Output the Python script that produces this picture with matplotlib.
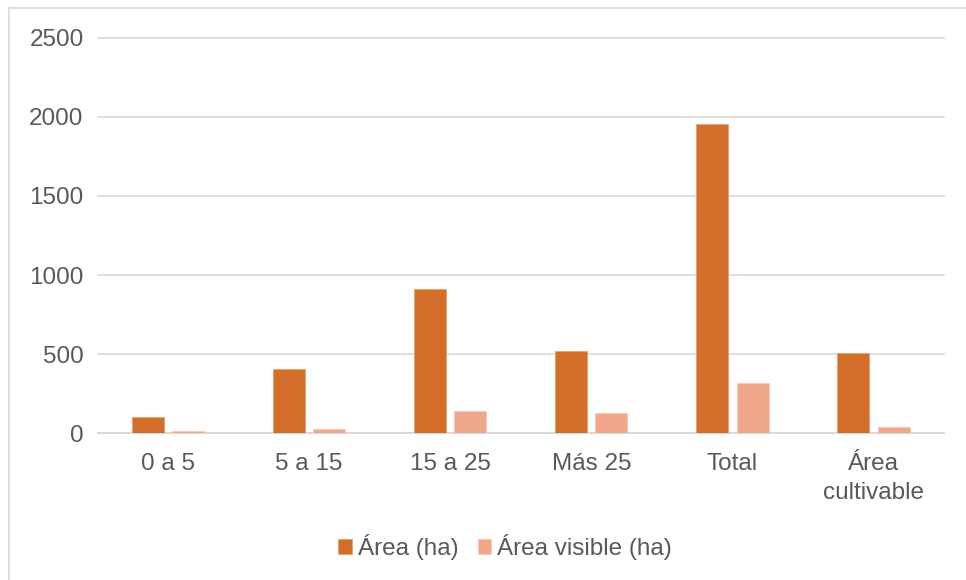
import numpy as np
import matplotlib.pyplot as plt
from matplotlib.lines import Line2D

categorias = ['0 a 5', '5 a 15', '15 a 25', 'Más 25', 'Total', 'Área\ncultivable']
area = [101, 406, 913, 520, 1954, 507]
area_visible = [13, 25, 141, 126, 318, 40]

plt.rcParams['font.family'] = ['Liberation Sans', 'DejaVu Sans']
gris = '#595959'

W, H = 966, 580
fig = plt.figure(figsize=(W / 100, H / 100), dpi=100)
ax = fig.add_axes([97.5 / W, (H - 433.3) / H, 846.5 / W, (433.3 - 37.6) / H])

x = np.arange(len(categorias))
ancho = 0.227
ax.bar(x - 0.143, area, ancho, color='#D26E2A', edgecolor='#E8A070', linewidth=0.6,
       label='Área (ha)', zorder=3)
ax.bar(x + 0.143, area_visible, ancho, color='#F1A88A', edgecolor='#F8C9B5', linewidth=0.6,
       label='Área visible (ha)', zorder=3)

ax.set_xlim(-0.5, len(categorias) - 0.5)
ax.set_ylim(0, 2500)
ax.set_yticks(range(0, 2501, 500))
ax.set_xticks(x)
ax.set_xticklabels(categorias, linespacing=1.4)
ax.yaxis.grid(True, color='#D9D9D9', linewidth=1.2, zorder=0)
ax.set_axisbelow(True)
for s in ['top', 'right', 'left']:
    ax.spines[s].set_visible(False)
ax.spines['bottom'].set_color('#D9D9D9')
ax.spines['bottom'].set_linewidth(1.4)
ax.tick_params(axis='both', length=0, labelsize=17.5, colors=gris)
ax.tick_params(axis='y', pad=10)
ax.tick_params(axis='x', pad=14)
for gl in ax.get_ygridlines():
    gl.set_clip_on(False)

ax.legend(loc='center', bbox_to_anchor=(505 / W, 1 - 547 / H), bbox_transform=fig.transFigure,
          ncol=2, frameon=False, fontsize=17.5, labelcolor=gris, handlelength=0.55,
          handleheight=0.55, handletextpad=0.25, columnspacing=0.8)

# marco exterior del gráfico
fig.add_artist(Line2D([9 / W, 9 / W], [0, 1 - 8 / H], color='#D9D9D9', linewidth=1.2))
fig.add_artist(Line2D([9 / W, 1], [1 - 8 / H, 1 - 8 / H], color='#D9D9D9', linewidth=1.2))

fig.savefig('out.png', dpi=100)
